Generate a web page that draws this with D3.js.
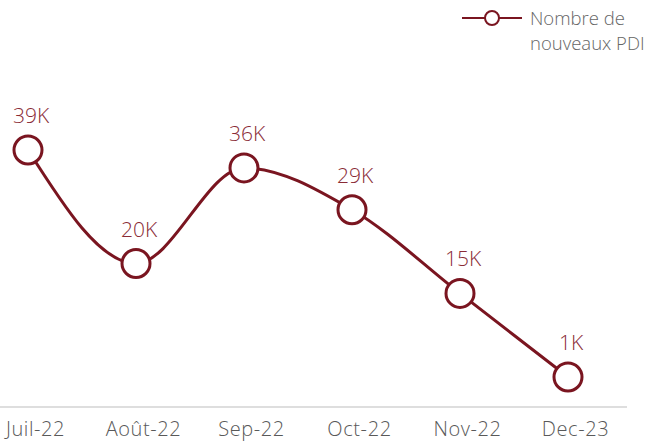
<!DOCTYPE html>
<html><head><meta charset="utf-8">
<script src="https://cdn.jsdelivr.net/npm/d3@7"></script>
<style>body{margin:0;background:#fff}svg{display:block}</style>
</head><body>
<script>
const categories = ["Juil-22","Août-22","Sep-22","Oct-22","Nov-22","Dec-23"];
const values = [39,20,36,29,15,1];
const labels = ["39K","20K","36K","29K","15K","1K"];
const seriesName = ["Nombre de","nouveaux PDI"];

const W=649,H=442;
const svg=d3.select("body").append("svg").attr("width",W).attr("height",H);
const font="'Open Sans', Lato, sans-serif";
const red="#7a1520";

const x=d3.scalePoint().domain(categories).range([28,568]);
const y=d3.scaleLinear().domain([0,40]).range([383,144]);

// axis
const ax=svg.append("g").attr("transform","translate(0,407)")
  .call(d3.axisBottom(x).tickSize(0).tickPadding(0));
ax.select(".domain").remove();
svg.append("line").attr("x1",0).attr("x2",627).attr("y1",407).attr("y2",407)
  .attr("stroke","#dedede").attr("stroke-width",2);
ax.selectAll("text").attr("font-family",font).attr("font-size",20).attr("font-weight",300).attr("fill","#595959")
  .attr("y",29).attr("dy",0).attr("x",7).attr("letter-spacing",0.6);

const line=d3.line().x((d,i)=>x(categories[i])).y(d=>y(d)).curve(d3.curveMonotoneX);
svg.append("path").datum(values).attr("d",line).attr("fill","none")
  .attr("stroke",red).attr("stroke-width",3);

svg.selectAll("circle.pt").data(values).join("circle").attr("class","pt")
  .attr("cx",(d,i)=>x(categories[i])).attr("cy",d=>y(d)).attr("r",14)
  .attr("fill","#fff").attr("stroke",red).attr("stroke-width",3);

svg.selectAll("text.lbl").data(values).join("text").attr("class","lbl")
  .attr("x",(d,i)=>x(categories[i])+3).attr("y",d=>y(d)-27)
  .attr("text-anchor","middle").attr("font-family",font).attr("font-size",21).attr("font-weight",300)
  .attr("fill","#8a2b36").text((d,i)=>labels[i]);

// legend
const lg=svg.append("g");
lg.append("line").attr("x1",462).attr("x2",522).attr("y1",18).attr("y2",18).attr("stroke",red).attr("stroke-width",2);
lg.append("circle").attr("cx",492).attr("cy",18).attr("r",7).attr("fill","#fff").attr("stroke",red).attr("stroke-width",2);
lg.selectAll("text").data(seriesName).join("text").attr("x",530).attr("y",(d,i)=>25+i*25)
  .attr("font-family",font).attr("font-size",18.5).attr("font-weight",300).attr("fill","#666").text(d=>d);
</script>
</body></html>
